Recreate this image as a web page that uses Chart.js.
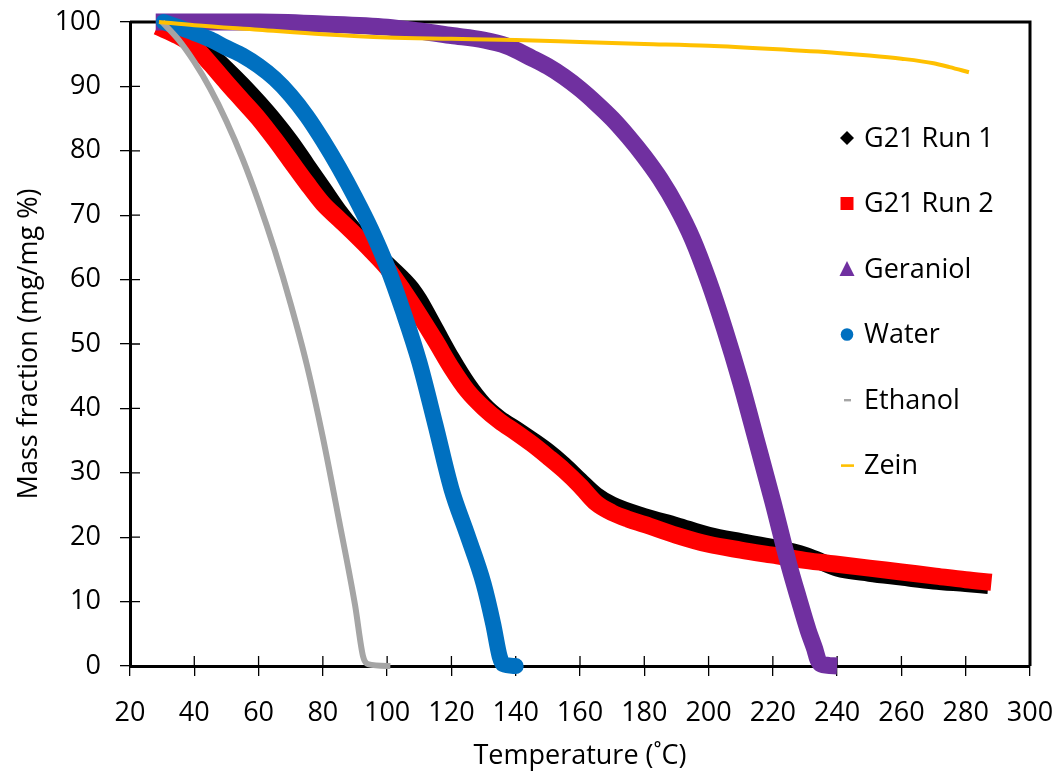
<!DOCTYPE html>
<html>
<head>
<meta charset="utf-8">
<script src="https://cdn.jsdelivr.net/npm/chart.js@4.4.1/dist/chart.umd.min.js"></script>
<style>
  html, body { margin: 0; padding: 0; background: #ffffff; }
  #wrap { width: 1055px; height: 771px; }
</style>
</head>
<body>
<div id="wrap"><canvas id="tga" width="1055" height="771"></canvas></div>
<script>
// Thermogravimetric curves: mass fraction (%) against temperature (°C)
const xTickValues = [20, 40, 60, 80, 100, 120, 140, 160, 180, 200, 220, 240, 260, 280, 300];
const yTickValues = [0, 10, 20, 30, 40, 50, 60, 70, 80, 90, 100];

const run1Temp = [29, 35, 40, 45, 50, 55, 60, 65, 70, 75, 80, 85, 90, 95, 100, 105, 108, 110, 115, 120, 125, 130, 135, 140, 145, 150, 155, 160, 165, 170, 180, 190, 200, 210, 220, 230, 235, 240, 250, 260, 270, 280, 287];
const run1Mass = [99.7, 98.4, 96.9, 95, 92.7, 90.2, 87.5, 84.6, 81.4, 77.8, 74.2, 70.6, 67.5, 64.8, 62.4, 60, 58.3, 56.8, 52.3, 47.8, 43.8, 40.6, 38.4, 36.8, 35.1, 33.3, 31.2, 28.8, 26.5, 25, 23.2, 21.8, 20.3, 19.3, 18.4, 17.2, 16.2, 15.2, 14.4, 13.8, 13.2, 12.8, 12.5];

const run2Temp = [28.5, 35, 40, 45, 50, 55, 60, 65, 70, 75, 80, 85, 90, 95, 100, 105, 110, 115, 120, 125, 130, 135, 140, 145, 150, 155, 160, 165, 170, 175, 180, 190, 200, 210, 220, 230, 240, 250, 260, 270, 280, 288];
const run2Mass = [99.3, 97.8, 96.2, 93.5, 90.6, 87.8, 85, 81.8, 78.4, 75, 71.8, 69.4, 67, 64.5, 61.8, 58.3, 54.5, 50.5, 46.3, 42.7, 40.1, 38, 36.3, 34.5, 32.5, 30.4, 28, 25.3, 23.8, 22.8, 22, 20.3, 18.9, 18, 17.2, 16.4, 15.8, 15.2, 14.6, 14, 13.4, 13];

const geraniolTemp = [28, 40, 60, 80, 100, 110, 120, 130, 137, 145, 150, 155, 160, 165, 170, 175, 180, 185, 190, 195, 200, 205, 210, 215, 220, 225, 228, 231, 233, 234, 235, 240];
const geraniolMass = [100, 100, 100, 99.7, 99.2, 98.6, 97.9, 97.2, 96.3, 94.4, 93.1, 91.5, 89.6, 87.4, 85, 82.2, 79.1, 75.6, 71.4, 66.3, 59.8, 52.3, 44, 34.8, 25.5, 15.7, 10.5, 5.5, 2.7, 1, 0.3, 0];

const waterTemp = [30.5, 35, 40, 45, 50, 55, 60, 65, 70, 75, 80, 85, 90, 95, 100, 105, 110, 115, 120, 125, 130, 133, 135, 136, 140];
const waterMass = [100, 99.2, 98.3, 97.3, 96, 94.8, 93.2, 91.2, 88.6, 85.4, 81.6, 77.4, 72.8, 67.8, 62, 55, 47.2, 37.5, 27.5, 20.3, 12.8, 6.5, 1.5, 0.3, 0];

const ethanolTemp = [30, 35, 40, 45, 50, 55, 60, 65, 70, 75, 80, 85, 90, 92.5, 94, 101];
const ethanolMass = [100, 97.3, 93.8, 89.6, 84.6, 78.8, 72.1, 64.6, 56.2, 46.8, 35.5, 22.7, 9.5, 1.5, 0.3, 0];

const zeinTemp = [29, 40, 60, 80, 100, 120, 140, 160, 180, 200, 220, 240, 250, 260, 270, 275, 281];
const zeinMass = [100, 99.5, 98.8, 98.1, 97.6, 97.4, 97.2, 96.9, 96.6, 96.3, 95.8, 95.2, 94.8, 94.3, 93.6, 93, 92.2];

const seriesNames = ['G21 Run 1', 'G21 Run 2', 'Geraniol', 'Water', 'Ethanol', 'Zein'];
const seriesColors = ['#000000', '#ff0000', '#7030a0', '#0070c0', '#a5a5a5', '#ffc000'];
const seriesWidths = [17, 17, 17, 16, 6, 4];
const seriesMarkers = ['diamond', 'square', 'triangle', 'circle', 'shortDash', 'longDash'];

const xTitle = 'Temperature (˚C)';
const yTitle = 'Mass fraction (mg/mg %)';

const FONT = '"Open Sans", "Noto Sans", sans-serif';

function pairs(t, m) { return t.map((v, i) => ({ x: v, y: m[i] })); }

const seriesData = [
  pairs(run1Temp, run1Mass),
  pairs(run2Temp, run2Mass),
  pairs(geraniolTemp, geraniolMass),
  pairs(waterTemp, waterMass),
  pairs(ethanolTemp, ethanolMass),
  pairs(zeinTemp, zeinMass)
];

// later series are painted over earlier ones
const datasets = seriesData.map((d, i) => ({
  label: seriesNames[i],
  data: d,
  borderColor: seriesColors[i],
  backgroundColor: seriesColors[i],
  borderWidth: seriesWidths[i],
  pointRadius: 0,
  cubicInterpolationMode: 'monotone',
  borderCapStyle: i === 3 ? 'round' : 'butt',
  borderJoinStyle: 'round',
  fill: false,
  clip: false,
  order: seriesNames.length - i
}));

// frame on top/right plus the inner half of each tick mark
const framePlugin = {
  id: 'frame',
  beforeDatasetsDraw(chart) {
    const { ctx, chartArea: a, scales } = chart;
    ctx.save();
    ctx.strokeStyle = '#000';
    ctx.lineWidth = 3;
    ctx.beginPath();
    ctx.moveTo(a.left, a.top);
    ctx.lineTo(a.right, a.top);
    ctx.lineTo(a.right, a.bottom);
    ctx.stroke();
    ctx.lineWidth = 1.3;
    ctx.beginPath();
    scales.x.ticks.forEach(t => {
      const px = scales.x.getPixelForValue(t.value);
      ctx.moveTo(px, a.bottom);
      ctx.lineTo(px, a.bottom - 10);
    });
    scales.y.ticks.forEach(t => {
      const py = scales.y.getPixelForValue(t.value);
      ctx.moveTo(a.left, py);
      ctx.lineTo(a.left + 10, py);
    });
    ctx.stroke();
    ctx.restore();
  }
};

function drawMarker(ctx, kind, x, y, color) {
  ctx.fillStyle = color;
  ctx.beginPath();
  switch (kind) {
    case 'diamond':
      ctx.moveTo(x, y - 7); ctx.lineTo(x + 7, y); ctx.lineTo(x, y + 7); ctx.lineTo(x - 7, y); ctx.closePath(); ctx.fill(); break;
    case 'square':
      ctx.rect(x - 6.5, y - 6.5, 13, 13); ctx.fill(); break;
    case 'triangle':
      ctx.moveTo(x, y - 8); ctx.lineTo(x + 7.5, y + 7); ctx.lineTo(x - 7.5, y + 7); ctx.closePath(); ctx.fill(); break;
    case 'circle':
      ctx.arc(x, y, 6.3, 0, Math.PI * 2); ctx.fill(); break;
    case 'shortDash':
      ctx.rect(x - 3, y - 1, 7, 2.4); ctx.fill(); break;
    case 'longDash':
      ctx.rect(x - 6, y - 1.2, 13, 2.6); ctx.fill(); break;
  }
}

// series key inside the plot area, right side
const keyPlugin = {
  id: 'seriesKey',
  afterDatasetsDraw(chart) {
    const { ctx, chartArea: a } = chart;
    const mx = a.right - 183;
    const tx = a.right - 166;
    ctx.save();
    ctx.font = '27px ' + FONT;
    ctx.textBaseline = 'middle';
    ctx.textAlign = 'left';
    chart.data.datasets.forEach((ds, i) => {
      const y = a.top + 116 + i * 65.5;
      drawMarker(ctx, seriesMarkers[i], mx, y, ds.borderColor);
      ctx.fillStyle = '#000';
      ctx.fillText(ds.label, tx, y + 1);
    });
    ctx.restore();
  }
};

new Chart(document.getElementById('tga'), {
  type: 'line',
  data: { datasets },
  options: {
    responsive: false,
    animation: false,
    events: [],
    layout: { padding: { top: 22, right: 25, left: 0, bottom: 0 } },
    plugins: { legend: { display: false }, tooltip: { enabled: false } },
    scales: {
      x: {
        type: 'linear',
        min: 20, max: 300,
        afterBuildTicks: s => { s.ticks = xTickValues.map(v => ({ value: v })); },
        afterFit: s => { s.height = 105; s.paddingLeft = 0; s.paddingRight = 0; },
        ticks: { color: '#000', font: { family: FONT, size: 27 }, padding: 21, maxRotation: 0, autoSkip: false },
        grid: { drawOnChartArea: false, drawTicks: true, tickLength: 10, color: '#000', lineWidth: 1.3 },
        border: { display: true, color: '#000', width: 3 },
        title: { display: true, text: xTitle, color: '#000', font: { family: FONT, size: 27, lineHeight: 1.1 }, padding: { top: 0, bottom: 0 } }
      },
      y: {
        type: 'linear',
        min: 0, max: 100,
        afterBuildTicks: s => { s.ticks = yTickValues.map(v => ({ value: v })); },
        afterFit: s => { s.width = 130; s.paddingTop = 0; s.paddingBottom = 0; },
        ticks: { color: '#000', font: { family: FONT, size: 27 }, padding: 19, autoSkip: false },
        grid: { drawOnChartArea: false, drawTicks: true, tickLength: 10, color: '#000', lineWidth: 1.3 },
        border: { display: true, color: '#000', width: 3 },
        title: { display: true, text: yTitle, color: '#000', font: { family: FONT, size: 27 }, padding: { top: 13, bottom: 0 } }
      }
    }
  },
  plugins: [framePlugin, keyPlugin]
});
</script>
</body>
</html>
